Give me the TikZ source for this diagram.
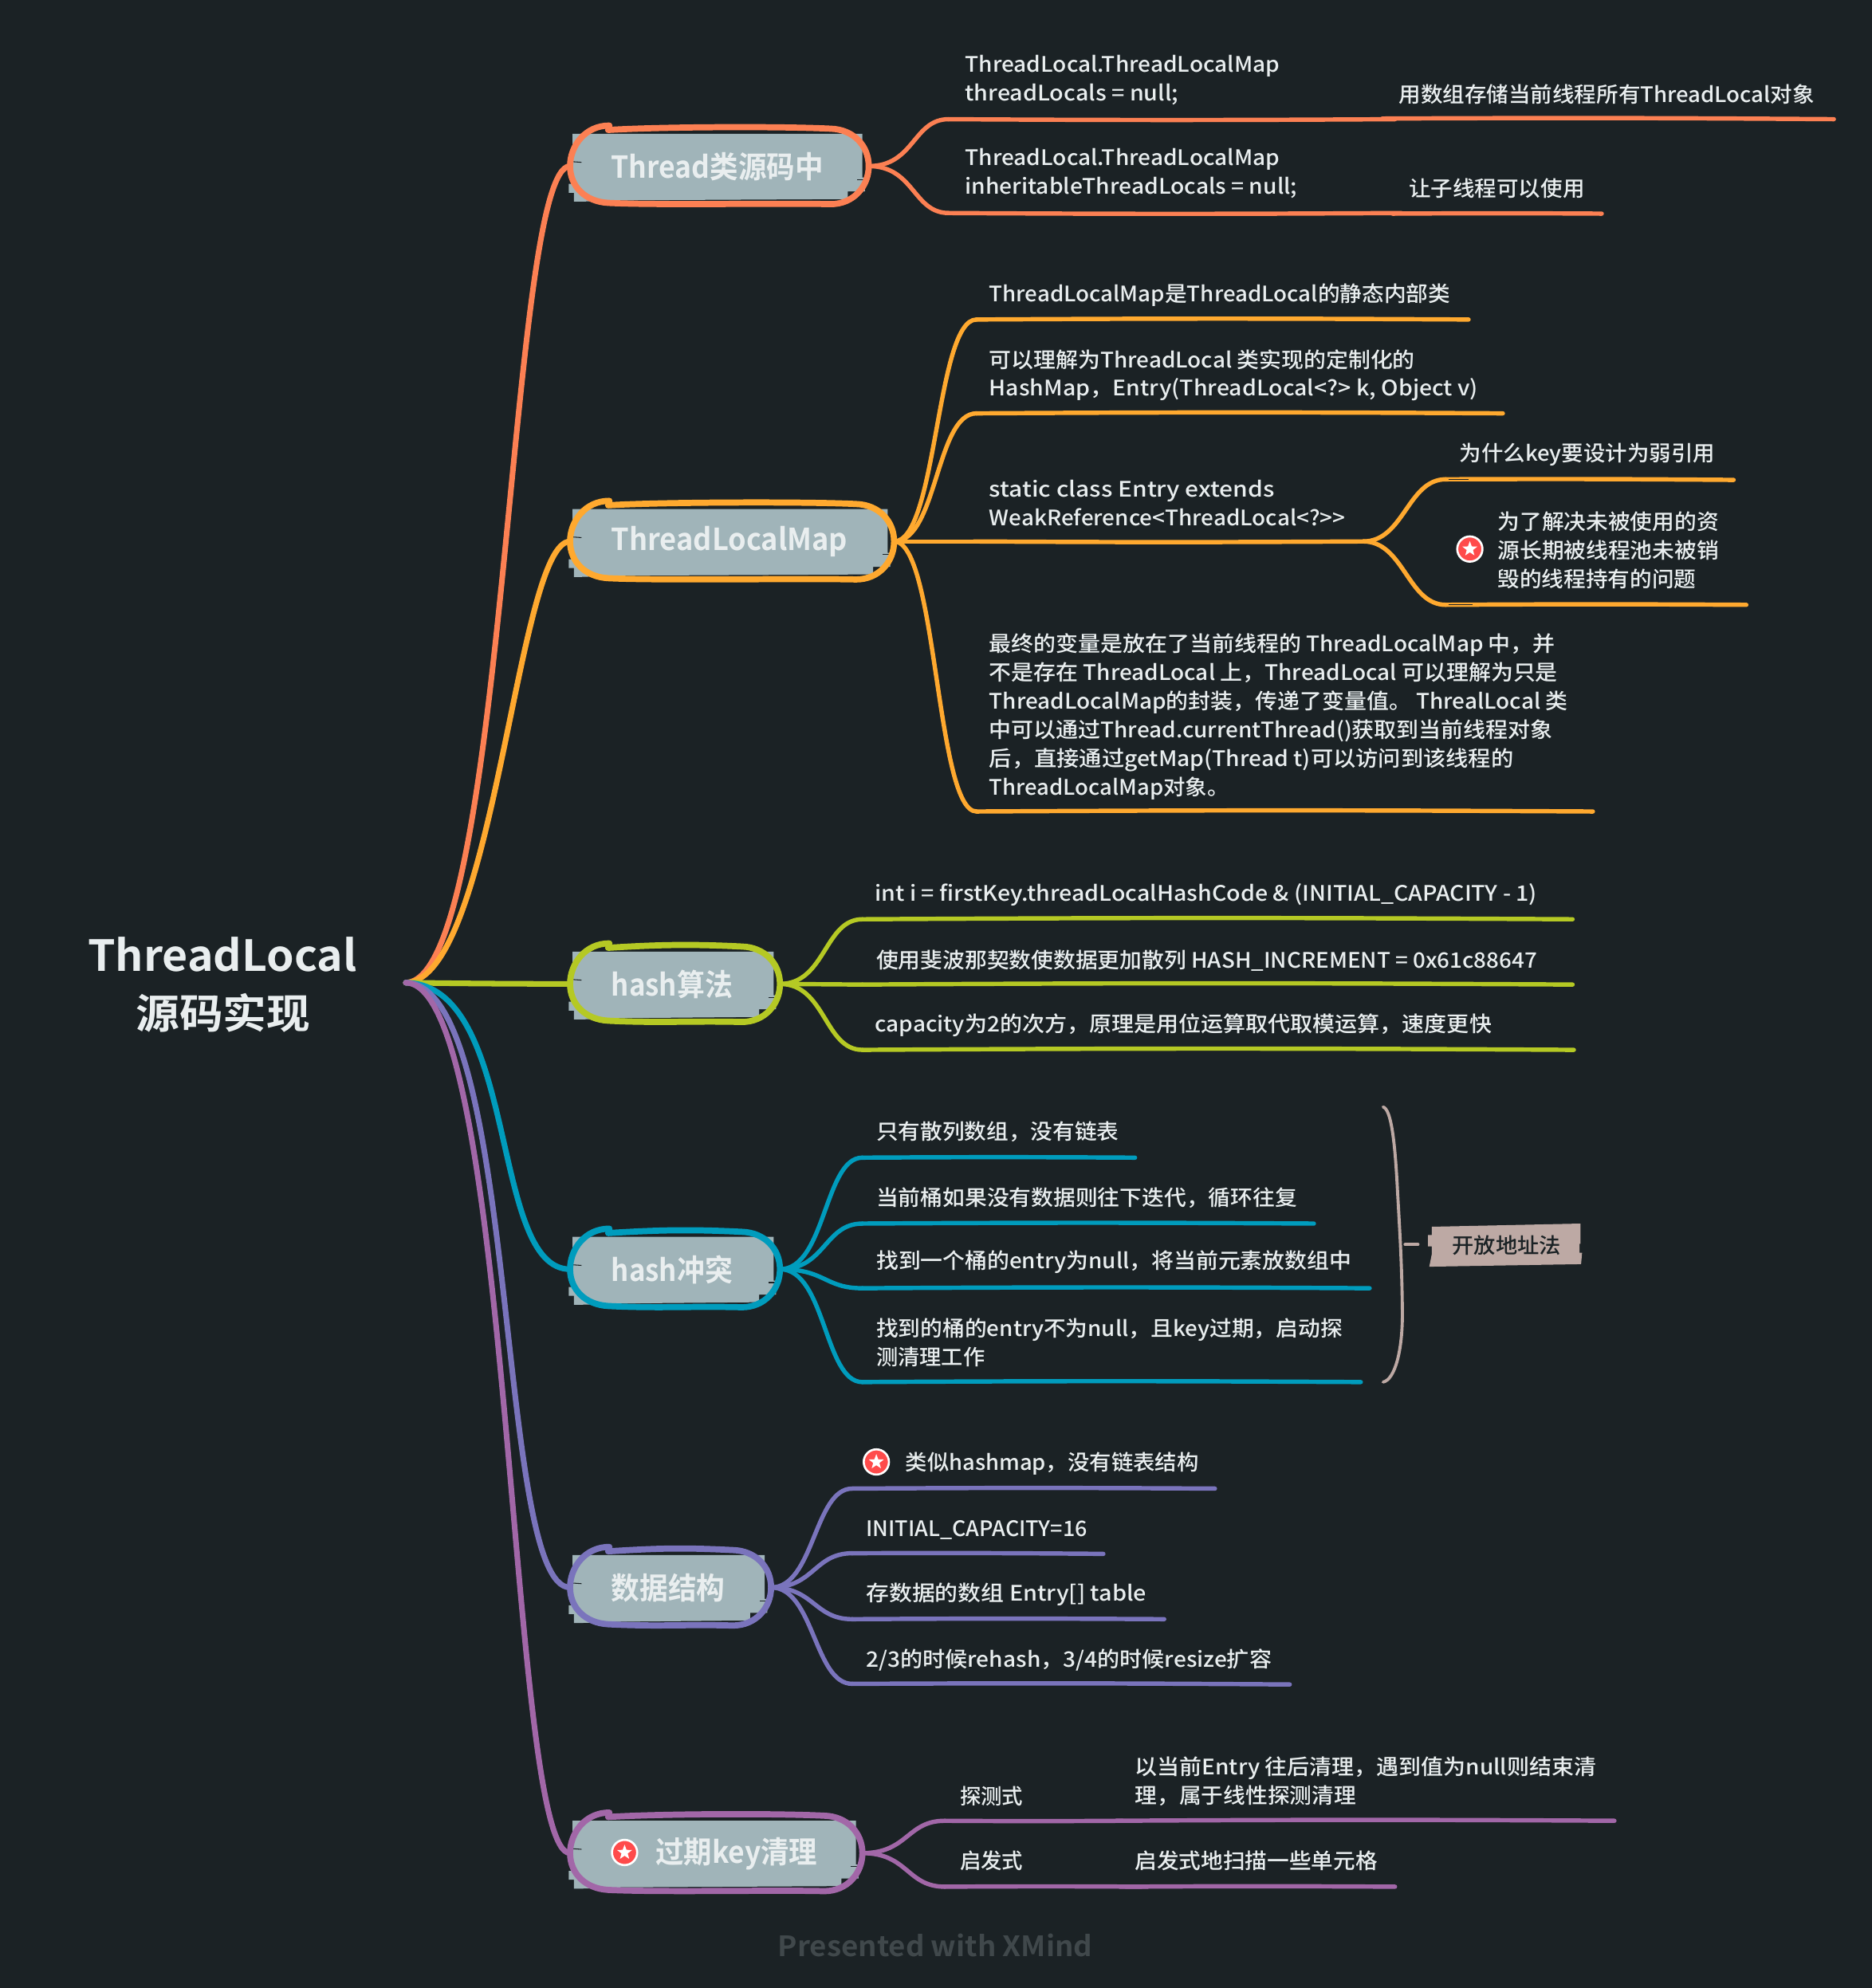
\documentclass[tikz,border=0pt]{standalone}
\usepackage{fontspec}
\usepackage{graphicx}
\usetikzlibrary{shapes.geometric}
\setmainfont{Noto Sans CJK SC}[UprightFont=* Medium,BoldFont=* Bold]
\newlength\du
\setlength\du{0.45094pt}
\newcommand{\Ln}[2]{\resizebox{#1\du}{\height}{#2}}
\definecolor{bgc}{HTML}{1B2225}
\definecolor{fillc}{HTML}{A0B4B9}
\definecolor{txtc}{HTML}{E9EEEF}
\definecolor{orangec}{HTML}{FC8053}
\definecolor{amberc}{HTML}{FFA92F}
\definecolor{limec}{HTML}{B5C924}
\definecolor{tealc}{HTML}{009CBD}
\definecolor{indigoc}{HTML}{7A74BC}
\definecolor{purplec}{HTML}{A267A8}
\definecolor{tagc}{HTML}{BDA9A4}
\definecolor{starc}{HTML}{FF4B4B}
\definecolor{wmc}{HTML}{40484B}
\tikzset{
  x=0.15908mm,y=-0.15908mm,
  leaf/.style={anchor=west,inner sep=0pt,outer sep=0pt,align=left,text=txtc,yshift=-0.2pt,font=\fontsize{7.6}{10.24}\selectfont},
  topictext/.style={inner sep=0pt,outer sep=0pt,text=txtc,yshift=-0.2pt,font=\fontsize{10.8}{13}\bfseries\selectfont},
  roottext/.style={inner sep=0pt,text=txtc,font=\bfseries},
  main/.style={line width=2pt,line cap=round},
  sub/.style={line width=1.55pt,line cap=round},
  outline/.style={line width=2.2pt,line cap=round,line join=round},
  scratch/.style={bgc,line width=0.3pt},
  wob/.style={bend right=0.35},
  wobb/.style={bend left=0.35},
  starbadge/.style={circle,fill=starc,draw=white,line width=0.75pt,minimum size=9pt,inner sep=0pt},
  starmark/.style={star,star points=5,star point ratio=2.4,fill=white,minimum size=5.6pt,inner sep=0pt},
}
% name, xl, xr, yc, colour, text
\newcommand{\Topic}[6]{%
  \fill[fillc] ({#2+2},{#4-25.5}) -- ({#3-5},{#4-25.5}) -- ({#3-5},{#4+9}) -- ({#3-3},{#4+9}) -- ({#3-3},{#4+20})
    -- ({#3-16.5},{#4+20}) -- ({#3-16.5},{#4+26}) -- ({#2+40},{#4+27}) -- ({#2+9},{#4+28}) -- ({#2+3},{#4+28})
    -- ({#2+3},{#4+21}) -- ({#2-1},{#4+21}) -- ({#2-1},{#4+14}) -- ({#2+2},{#4+14}) -- cycle;
  \draw[scratch] ({#2+2},{#4-3.5}) -- ({#2+9},{#4-3});
  \draw[scratch] ({#3-9},{#4+10.5}) -- ({#3-4},{#4+10.5});
  \draw[#5,outline] ({#2+31},{#4-32}) .. controls ({#2+12},{#4-32}) and ({#2},{#4-16}) .. ({#2},{#4})
    .. controls ({#2},{#4+16}) and ({#2+12},{#4+28}) .. ({#2+30},{#4+29})
    .. controls ({#2+70},{#4+31}) and ({#3-70},{#4+29}) .. ({#3-30},{#4+30})
    .. controls ({#3-12},{#4+30}) and ({#3},{#4+16}) .. ({#3},{#4})
    .. controls ({#3},{#4-16}) and ({#3-12},{#4-29}) .. ({#3-30},{#4-29.5})
    .. controls ({#3-70},{#4-31.5}) and ({#2+70},{#4-31}) .. ({#2+30},{#4-28.5});
  \coordinate (#1w) at (#2,#4);
  \coordinate (#1e) at (#3,#4);
  #6
}
\newcommand{\Badge}[3]{%
  \node[starbadge] (#1) at (#2,#3) {};
  \node[starmark] (#1s) at (#2,#3) {};
}
\begin{document}
\begin{tikzpicture}
\useasboundingbox[fill=bgc] (0,0) rectangle (1476,1567.9);

% root
\node[roottext,font=\fontsize{15.3}{18}\bfseries\selectfont] (root1) at (175.5,753) {\Ln{213}{ThreadLocal}};
\node[roottext,font=\fontsize{14.6}{18}\bfseries\selectfont] (root2) at (176,799) {\Ln{138}{源码实现}};
\coordinate (root) at (320,775);

% topics
\Topic{t1}{449.5}{685}{131}{orangec}{\node[topictext,anchor=west] (t1txt) at (482,131) {\Ln{168}{Thread类源码中}};}
\Topic{t2}{449.5}{705}{427}{amberc}{\node[topictext,anchor=west] (t2txt) at (482,427) {\Ln{187}{ThreadLocalMap}};}
\Topic{t3}{449.5}{615}{776}{limec}{\node[topictext,anchor=west] (t3txt) at (482,776) {\Ln{96}{hash算法}};}
\Topic{t4}{449.5}{615}{1001}{tealc}{\node[topictext,anchor=west] (t4txt) at (482,1001) {\Ln{96}{hash冲突}};}
\Topic{t5}{449.5}{608}{1252}{indigoc}{\node[topictext,anchor=west] (t5txt) at (482,1252) {\Ln{90}{数据结构}};}
\Topic{t6}{449.5}{680}{1461.5}{purplec}{\node[topictext,anchor=west] (t6txt) at (517,1461.5) {\Ln{128}{过期key清理}};}
\Badge{b6}{492.5}{1461}

% root connectors
\draw[orangec,main] (root) .. controls +(80,-2) and +(-49,0) .. (t1w);
\draw[amberc,main] (root) .. controls +(70,-2) and +(-42,0) .. (t2w);
\draw[limec,main] (root) to[wob] (t3w);
\draw[tealc,main] (root) .. controls +(90,2) and +(-64,0) .. (t4w);
\draw[indigoc,main] (root) .. controls +(90,2) and +(-59,0) .. (t5w);
\draw[purplec,main] (root) .. controls +(85,2) and +(-49,0) .. (t6w);

% Thread
\coordinate (a1s) at (748,94); \coordinate (a1e) at (1100,94);
\coordinate (a2s) at (1090,93.5); \coordinate (a2e) at (1446,94);
\coordinate (b1s) at (748,168); \coordinate (b1e) at (1105,168);
\coordinate (b2s) at (1098,168.5); \coordinate (b2e) at (1263,168.5);
\draw[orangec,sub] (t1e) .. controls +(36,0) and +(-28,0) .. (a1s);
\draw[orangec,sub] (t1e) .. controls +(36,0) and +(-28,0) .. (b1s);
\draw[orangec,sub] (a1s) to[wob] (a1e);
\draw[orangec,sub] (a2s) to[wobb] (a2e);
\draw[orangec,sub] (b1s) to[wob] (b1e);
\draw[orangec,sub] (b2s) to[wobb] (b2e);
\node[leaf] (a1) at (761,62.5) {\Ln{249}{ThreadLocal.ThreadLocalMap}\\\Ln{169}{threadLocals = null;}};
\node[leaf] (a2) at (1103,74) {\Ln{329}{用数组存储当前线程所有ThreadLocal对象}};
\node[leaf] (b1) at (761,136.5) {\Ln{249}{ThreadLocal.ThreadLocalMap}\\\Ln{263}{inheritableThreadLocals = null;}};
\node[leaf] (b2) at (1111,148) {\Ln{139}{让子线程可以使用}};

% ThreadLocalMap
\coordinate (c1s) at (770,252); \coordinate (c1e) at (1158,252);
\coordinate (c2s) at (770,326); \coordinate (c2e) at (1185,326);
\coordinate (c3s) at (768,427); \coordinate (c3e) at (1075,427);
\coordinate (c4s) at (770,640); \coordinate (c4e) at (1256,640);
\coordinate (d1s) at (1140,378); \coordinate (d1e) at (1367,378.5);
\coordinate (d2s) at (1140,477); \coordinate (d2e) at (1377,477);
\draw[amberc,sub] (t2e) .. controls +(34,0) and +(-32,0) .. (c1s);
\draw[amberc,sub] (t2e) .. controls +(34,0) and +(-32,0) .. (c2s);
\draw[amberc,sub] (t2e) -- (c3s);
\draw[amberc,sub] (t2e) .. controls +(34,0) and +(-32,0) .. (c4s);
\draw[amberc,sub] (c1s) to[wobb] (c1e);
\draw[amberc,sub] (c2s) to[wobb] (c2e);
\draw[amberc,sub] (c3s) to[wob] (c3e);
\draw[amberc,sub] (c4s) to[wobb] (c4e);
\draw[amberc,sub] (c3e) .. controls +(32,0) and +(-30,0) .. (d1s);
\draw[amberc,sub] (c3e) .. controls +(32,0) and +(-30,0) .. (d2s);
\draw[amberc,sub] (d1s) to[wobb] (d1e);
\draw[amberc,sub] (d2s) to[wobb] (d2e);
\draw[scratch] (1142,378) -- (1158,378);
\draw[scratch] (1142,477) -- (1161,477);
\node[leaf] (c1) at (780,232) {\Ln{365}{ThreadLocalMap是ThreadLocal的静态内部类}};
\node[leaf] (c2) at (780,295.5) {\Ln{337}{可以理解为ThreadLocal 类实现的定制化的}\\\Ln{387}{HashMap，Entry(ThreadLocal<?> k, Object v)}};
\node[leaf] (c3) at (780,396) {\Ln{226}{static class Entry extends}\\\Ln{282}{WeakReference<ThreadLocal<?>{}>}};
\node[leaf] (d1) at (1151,358) {\Ln{202}{为什么key要设计为弱引用}};
\node[leaf] (d2) at (1181,433.5) {\Ln{175}{为了解决未被使用的资}\\\Ln{175}{源长期被线程池未被销}\\\Ln{157}{毁的线程持有的问题}};
\Badge{bd2}{1159}{433}
\node[leaf] (c4) at (780,564.5) {\Ln{448}{最终的变量是放在了当前线程的 ThreadLocalMap 中，并}\\\Ln{450}{不是存在 ThreadLocal 上，ThreadLocal 可以理解为只是}\\\Ln{458}{ThreadLocalMap的封装，传递了变量值。 ThrealLocal 类}\\\Ln{446}{中可以通过Thread.currentThread()获取到当前线程对象}\\\Ln{415}{后，直接通过getMap(Thread t)可以访问到该线程的}\\\Ln{190}{ThreadLocalMap对象。}};

% hash 算法
\coordinate (e1s) at (680,725); \coordinate (e1e) at (1240,725);
\coordinate (e2s) at (680,776.5); \coordinate (e2e) at (1240,776.5);
\coordinate (e3s) at (680,828); \coordinate (e3e) at (1241,828);
\draw[limec,sub] (t3e) .. controls +(36,0) and +(-30,0) .. (e1s);
\draw[limec,sub] (t3e) -- (e2s);
\draw[limec,sub] (t3e) .. controls +(36,0) and +(-30,0) .. (e3s);
\draw[limec,sub] (e1s) to[wobb] (e1e);
\draw[limec,sub] (e2s) to[wobb] (e2e);
\draw[limec,sub] (e3s) to[wobb] (e3e);
\node[leaf] (e1) at (690,705) {\Ln{524}{int i = firstKey.threadLocalHashCode \& (INITIAL\_CAPACITY - 1)}};
\node[leaf] (e2) at (691,757) {\Ln{523}{使用斐波那契数使数据更加散列 HASH\_INCREMENT = 0x61c88647}};
\node[leaf] (e3) at (690,808) {\Ln{488}{capacity为2的次方，原理是用位运算取代取模运算，速度更快}};

% hash 冲突
\coordinate (f1s) at (680,913); \coordinate (f1e) at (895,913);
\coordinate (f2s) at (680,965); \coordinate (f2e) at (1036,965);
\coordinate (f3s) at (680,1016); \coordinate (f3e) at (1080,1016);
\coordinate (f4s) at (680,1090); \coordinate (f4e) at (1073,1090);
\draw[tealc,sub] (t4e) .. controls +(36,0) and +(-30,0) .. (f1s);
\draw[tealc,sub] (t4e) .. controls +(36,0) and +(-30,0) .. (f2s);
\draw[tealc,sub] (t4e) .. controls +(36,0) and +(-30,0) .. (f3s);
\draw[tealc,sub] (t4e) .. controls +(36,0) and +(-30,0) .. (f4s);
\draw[tealc,sub] (f1s) to[wobb] (f1e);
\draw[tealc,sub] (f2s) to[wobb] (f2e);
\draw[tealc,sub] (f3s) to[wobb] (f3e);
\draw[tealc,sub] (f4s) to[wobb] (f4e);
\node[leaf] (f1) at (691,892) {\Ln{192}{只有散列数组，没有链表}};
\node[leaf] (f2) at (691,944) {\Ln{333}{当前桶如果没有数据则往下迭代，循环往复}};
\node[leaf] (f3) at (691,995) {\Ln{376}{找到一个桶的entry为null，将当前元素放数组中}};
\node[leaf] (f4) at (691,1058.5) {\Ln{369}{找到的桶的entry不为null，且key过期，启动探}\\\Ln{86}{测清理工作}};

% bracket and tag
\coordinate (br1) at (1090.6,873); \coordinate (br2) at (1090.6,1090);
\draw[tagc,line width=1.1pt,line cap=round] (br1) .. controls (1097,875) and (1100,900) .. (1102,940) .. controls (1104,975) and (1105.5,1000) .. (1105.8,1035) .. controls (1106,1065) and (1100,1088) .. (br2);
\coordinate (brt) at (1108,981.5);
\fill[tagc] (1129,967.5) -- (1246.3,965) -- (1246.3,981) -- (1245.5,981) -- (1245.5,988) -- (1247.5,988) -- (1246.7,997) -- (1127,999) -- (1129,989) -- (1129,983) -- (1126,983) -- (1126,974) -- (1129,974) -- cycle;
\node[inner sep=0pt,text=bgc,font=\fontsize{7.6}{10.24}\selectfont] (tag) at (1188,982) {\Ln{86}{开放地址法}};
\coordinate (tagw) at (1118,981.5);
\draw[tagc,line width=1.2pt,line cap=round] (brt) -- (tagw);

% 数据结构
\coordinate (g1s) at (672,1174); \coordinate (g1e) at (958,1174);
\coordinate (g2s) at (672,1225); \coordinate (g2e) at (870,1225.5);
\coordinate (g3s) at (672,1277); \coordinate (g3e) at (918,1277);
\coordinate (g4s) at (672,1328); \coordinate (g4e) at (1017,1328.5);
\draw[indigoc,sub] (t5e) .. controls +(34,0) and +(-30,0) .. (g1s);
\draw[indigoc,sub] (t5e) .. controls +(34,0) and +(-30,0) .. (g2s);
\draw[indigoc,sub] (t5e) .. controls +(34,0) and +(-30,0) .. (g3s);
\draw[indigoc,sub] (t5e) .. controls +(34,0) and +(-30,0) .. (g4s);
\draw[indigoc,sub] (g1s) to[wobb] (g1e);
\draw[indigoc,sub] (g2s) to[wobb] (g2e);
\draw[indigoc,sub] (g3s) to[wobb] (g3e);
\draw[indigoc,sub] (g4s) to[wobb] (g4e);
\Badge{bg1}{691}{1153}
\node[leaf] (g1) at (714,1154) {\Ln{232}{类似hashmap，没有链表结构}};
\node[leaf] (g2) at (683,1206) {\Ln{175}{INITIAL\_CAPACITY=16}};
\node[leaf] (g3) at (683,1257) {\Ln{222}{存数据的数组 Entry[] table}};
\node[leaf] (g4) at (683,1309) {\Ln{321}{2/3的时候rehash，3/4的时候resize扩容}};

% 过期key清理
\coordinate (h1s) at (745,1436); \coordinate (h1e) at (885,1436);
\coordinate (h2s) at (880,1436); \coordinate (h2e) at (1273,1436);
\coordinate (j1s) at (745,1488); \coordinate (j1e) at (905,1488);
\coordinate (j2s) at (883,1488); \coordinate (j2e) at (1100,1488);
\draw[purplec,sub] (t6e) .. controls +(36,0) and +(-30,0) .. (h1s);
\draw[purplec,sub] (t6e) .. controls +(36,0) and +(-30,0) .. (j1s);
\draw[purplec,sub] (h1s) to[wob] (h1e);
\draw[purplec,sub] (h2s) to[wobb] (h2e);
\draw[purplec,sub] (j1s) to[wobb] (j1e);
\draw[purplec,sub] (j2s) to[wobb] (j2e);
\node[leaf] (h1) at (757,1416) {\Ln{50}{探测式}};
\node[leaf] (h2) at (895,1404.5) {\Ln{365}{以当前Entry 往后清理，遇到值为null则结束清}\\\Ln{175}{理，属于线性探测清理}};
\node[leaf] (j1) at (757,1467) {\Ln{50}{启发式}};
\node[leaf] (j2) at (895,1467) {\Ln{192}{启发式地扫描一些单元格}};

% footer
\node[inner sep=0pt,text=wmc,font=\fontsize{10}{12}\bfseries\selectfont] (wm) at (737.5,1534) {\Ln{249}{Presented with XMind}};
\end{tikzpicture}
\end{document}
